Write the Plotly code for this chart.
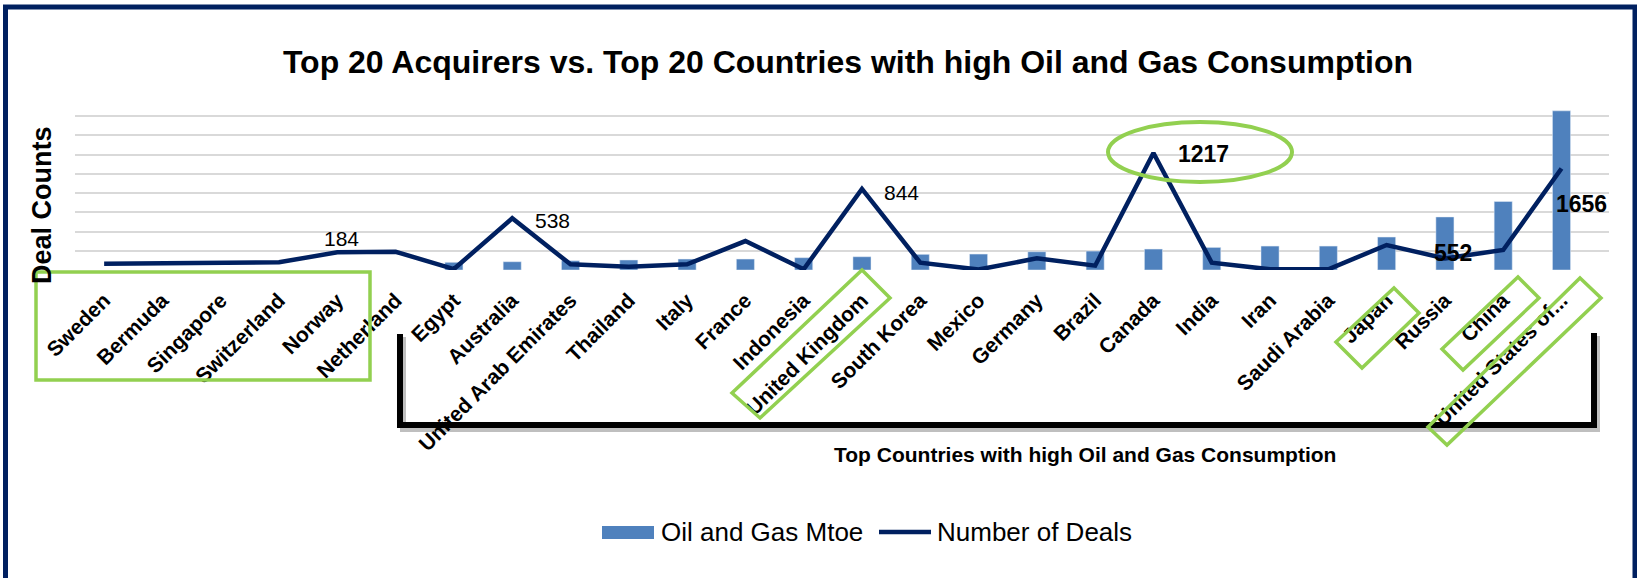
import plotly.graph_objects as go

W, H = 1637, 578
L, R, T, B = 75, 1609, 97, 270  # plot area in pixels

countries = ["Sweden", "Bermuda", "Singapore", "Switzerland", "Norway", "Netherland",
             "Egypt", "Australia", "United Arab Emirates", "Thailand", "Italy", "France",
             "Indonesia", "United Kingdom", "South Korea", "Mexico", "Germany", "Brazil",
             "Canada", "India", "Iran", "Saudi Arabia", "Japan", "Russia", "China",
             "United States of..."]
oil_gas_mtoe = [None, None, None, None, None, None,
                80, 86, 97, 104, 114, 114,
                128, 138, 163, 166, 190, 197,
                218, 235, 249, 249, 343, 552, 713, 1656]
num_deals = [65, 68, 72, 80, 184, 190,
             10, 538, 59, 35, 59, 301,
             8, 844, 76, 5, 121, 45,
             1217, 76, 7, 7, 260, 121, 208, 1056]
series_names = ["Oil and Gas Mtoe", "Number of Deals"]

FONT = "Arial, Liberation Sans, sans-serif"
GREEN = "#92D050"
NAVY = "#002060"
BAR_COLOR = "#4F81BD"


def px(xp):
    return (xp - L) / (R - L)


def py(yp):
    return (B - yp) / (B - T)


def path(points):
    s = "M " + " L ".join(f"{px(a):.5f},{py(b):.5f}" for a, b in points)
    return s


fig = go.Figure()
fig.add_trace(go.Bar(x=countries, y=oil_gas_mtoe, name=series_names[0],
                     marker_color=BAR_COLOR, width=0.31, showlegend=False))
fig.add_trace(go.Scatter(x=countries, y=num_deals, name=series_names[1], mode="lines",
                         line=dict(color=NAVY, width=4.5), showlegend=False))

# data labels
deal_labels = [("Norway", 4, 14, False), ("Australia", 40, -2, False),
               ("United Kingdom", 40, -4, False), ("Canada", 50, -1, True)]
for c, dx, dy, bold in deal_labels:
    v = num_deals[countries.index(c)]
    fig.add_annotation(x=c, y=v, xref="x", yref="y", text=f"<b>{v}</b>" if bold else str(v),
                       showarrow=False, xshift=dx, yshift=dy,
                       font=dict(family=FONT, size=23 if bold else 21, color="black"))
bar_labels = [("Russia", 8, -36), ("United States of...", 20, -93)]
for c, dx, dy in bar_labels:
    v = oil_gas_mtoe[countries.index(c)]
    fig.add_annotation(x=c, y=v, xref="x", yref="y", text=f"<b>{v}</b>",
                       showarrow=False, xshift=dx, yshift=dy,
                       font=dict(family=FONT, size=23, color="black"))

# axis title and bottom caption
fig.add_annotation(x=px(42), y=py(205), xref="paper", yref="paper", text="<b>Deal Counts</b>",
                   xanchor="center", yanchor="middle",
                   textangle=-90, showarrow=False, font=dict(family=FONT, size=27, color="black"))
fig.add_annotation(x=px(1085), y=py(455), xref="paper", yref="paper",
                   xanchor="center", yanchor="middle",
                   text="<b>Top Countries with high Oil and Gas Consumption</b>",
                   showarrow=False, font=dict(family=FONT, size=21, color="black"))

# legend (drawn to match the wide swatches of the original)
fig.add_annotation(x=px(659), y=py(532), xref="paper", yref="paper", xanchor="left", yanchor="middle",
                   text=series_names[0], showarrow=False, font=dict(family=FONT, size=26, color="black"))
fig.add_annotation(x=px(935), y=py(532), xref="paper", yref="paper", xanchor="left", yanchor="middle",
                   text=series_names[1], showarrow=False, font=dict(family=FONT, size=26, color="black"))

shapes = []
shapes.append(dict(type="rect", xref="paper", yref="paper", x0=px(602), x1=px(654), y0=py(526), y1=py(539),
                   fillcolor=BAR_COLOR, line=dict(width=0)))
shapes.append(dict(type="line", xref="paper", yref="paper", x0=px(879), x1=px(931), y0=py(532), y1=py(532),
                   line=dict(color=NAVY, width=4.5)))
# frame
shapes.append(dict(type="rect", xref="paper", yref="paper", x0=px(5.5), x1=px(1635), y0=py(7), y1=py(600),
                   line=dict(color=NAVY, width=5)))
# bracket shadow + bracket
shapes.append(dict(type="path", xref="paper", yref="paper",
                   path=path([(403, 337), (403, 429), (1597, 429), (1597, 336)]),
                   line=dict(color="rgba(0,0,0,0.25)", width=6)))
shapes.append(dict(type="path", xref="paper", yref="paper",
                   path=path([(400, 334), (400, 425), (1594, 425), (1594, 333)]),
                   line=dict(color="black", width=6)))
# green highlights
shapes.append(dict(type="rect", xref="paper", yref="paper", x0=px(36), x1=px(370), y0=py(272), y1=py(380),
                   line=dict(color=GREEN, width=3.5)))
shapes.append(dict(type="circle", xref="paper", yref="paper", x0=px(1108), x1=px(1292), y0=py(122), y1=py(182),
                   line=dict(color=GREEN, width=4)))
for pts in [[(862, 270), (890, 298), (760, 418), (732, 393)],
            [(1394, 288), (1419, 313), (1362, 368), (1336, 342)],
            [(1518, 277), (1539, 298), (1463, 370), (1442, 349)],
            [(1580, 278), (1601, 298), (1447, 445), (1428, 427)]]:
    shapes.append(dict(type="path", xref="paper", yref="paper", path=path(pts) + " Z",
                       line=dict(color=GREEN, width=3.5)))

fig.update_layout(
    width=W, height=H,
    margin=dict(l=L, r=W - R, t=T, b=H - B),
    paper_bgcolor="white", plot_bgcolor="white",
    title=dict(text="<b>Top 20 Acquirers vs. Top 20 Countries with high Oil and Gas Consumption</b>",
               x=848 / W, xref="container", xanchor="center",
               y=1 - 62 / H, yref="container", yanchor="middle",
               font=dict(family=FONT, size=32, color="black")),
    showlegend=False,
    shapes=shapes,
    bargap=0.7,
)
fig.update_xaxes(type="category", tickangle=-45, showgrid=False, showline=False, ticks="",
                 tickfont=dict(family=FONT, size=21, color="black"), ticklabelstandoff=13,
                 tickprefix="<b>", ticksuffix="</b>", zeroline=False)
fig.update_yaxes(range=[0, 1800], dtick=200, showticklabels=False, showgrid=True,
                 gridcolor="#D9D9D9", gridwidth=1.5, zeroline=False, showline=False)

fig.write_html("out.html")
